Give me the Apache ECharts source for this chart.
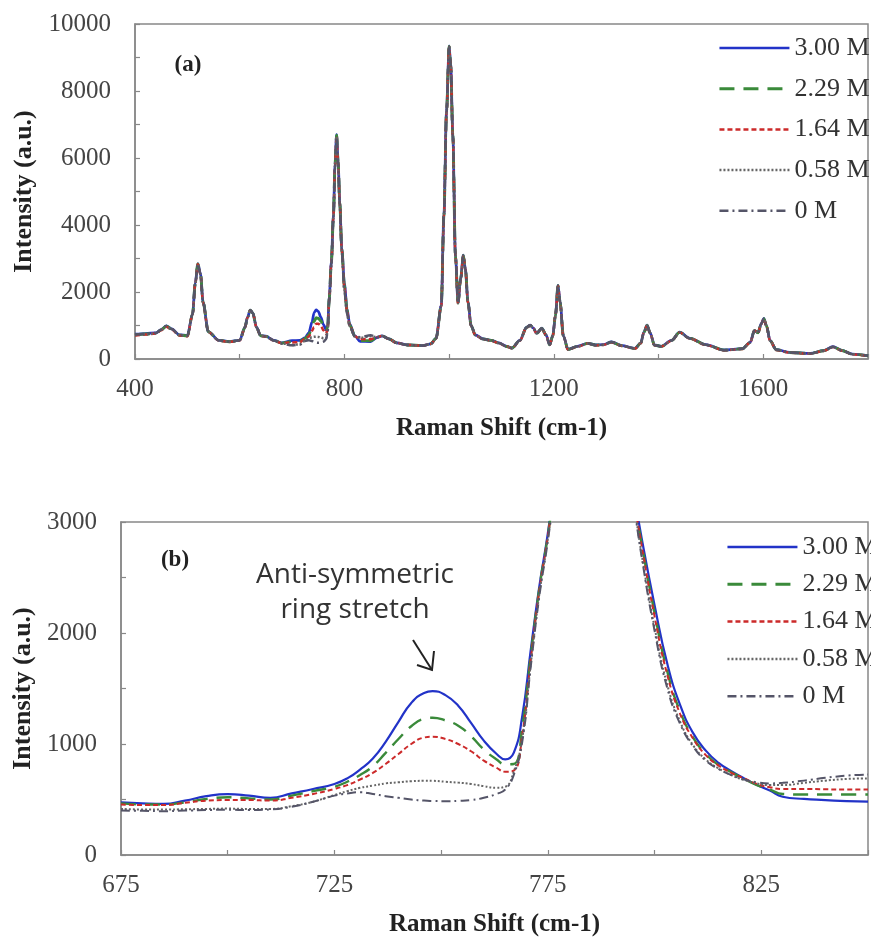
<!DOCTYPE html>
<html>
<head>
<meta charset="utf-8">
<script src="https://cdn.jsdelivr.net/npm/echarts@6/dist/echarts.min.js"></script>
<style>html,body{margin:0;padding:0;background:#fff}#c{width:871px;height:938px}</style>
</head>
<body>
<div id="c"></div>
<script>
// ---------- Panel (a): full spectrum ----------
const topX = [
 400,420,440,450,460,470,485,500,510,515,
 520,525,530,540,560,580,600,610,615,620,
 625,632,640,650,665,680,700,715,725,732,
 738,742,746,750,755,760,765,768,771,775,
 779,782,785,788,791,795,800,805,810,820,
 830,850,862,872,885,900,920,950,965,975,
 985,990,995,1000,1003,1007,1012,1017,1022,1027,
 1031,1036,1042,1050,1065,1080,1095,1110,1120,1135,
 1148,1155,1161,1167,1177,1185,1192,1198,1203,1208,
 1212,1218,1227,1245,1265,1280,1295,1310,1330,1355,
 1366,1372,1378,1384,1392,1405,1425,1440,1460,1490,
 1525,1560,1575,1583,1590,1596,1601,1606,1613,1625,
 1650,1690,1715,1733,1750,1770,1800];
const topM300 = [
 740,760,780,880,990,900,720,700,1350,2250,
 2850,2550,1700,820,560,520,560,950,1250,1460,
 1380,950,700,680,560,480,548,555,640,780,
 1100,1380,1470,1420,1250,1030,865,1000,1850,2900,
 4300,5800,6700,5900,4700,3300,2250,1500,1050,690,
 525,520,640,690,600,480,420,400,450,620,
 1600,4300,7400,9350,8800,6700,3100,1680,2400,3100,
 2700,1700,1000,720,600,560,480,380,330,560,
 950,1010,920,770,920,720,430,700,1300,2200,
 1700,700,290,380,470,420,430,510,400,320,
 480,800,1010,780,420,380,560,800,620,430,
 270,310,500,850,790,1050,1210,1000,550,280,
 200,170,250,370,260,150,100];
const topM229 = [
 720,745,770,870,980,890,710,690,1340,2240,
 2840,2540,1690,815,555,515,555,945,1245,1455,
 1375,945,695,675,555,475,520,530,615,720,
 960,1120,1230,1215,1140,950,818,960,1800,2880,
 4280,5780,6680,5880,4680,3260,2180,1450,1020,680,
 550,545,640,690,600,480,420,400,455,615,
 1590,4280,7380,9330,8780,6680,3090,1670,2390,3090,
 2690,1690,995,715,595,555,475,375,325,555,
 945,1005,915,765,915,715,425,695,1295,2190,
 1690,695,285,375,465,415,425,505,395,315,
 475,795,1005,775,415,375,555,795,615,425,
 265,305,495,845,785,1045,1205,995,545,275,
 195,165,245,365,255,145,95];
const topM164 = [
 700,730,760,860,960,880,700,680,1330,2230,
 2830,2530,1680,810,550,510,550,940,1240,1450,
 1370,940,690,670,550,470,495,505,595,670,
 840,950,1050,1055,1000,850,750,900,1760,2860,
 4260,5760,6660,5860,4660,3240,2150,1420,1000,680,
 595,590,650,690,600,480,420,400,450,610,
 1580,4260,7360,9310,8760,6660,3080,1660,2380,3080,
 2680,1680,990,710,590,550,470,370,320,550,
 940,1000,910,760,910,710,420,690,1290,2180,
 1680,690,280,370,460,410,420,500,390,310,
 470,790,1000,770,410,370,550,790,610,420,
 260,300,490,840,780,1040,1200,990,540,270,
 190,160,240,360,250,140,90];
const topM058 = [
 720,740,770,870,980,890,710,690,1340,2240,
 2835,2535,1685,812,553,513,553,943,1243,1453,
 1372,942,692,672,552,472,418,440,545,615,
 650,662,668,660,645,620,615,850,1720,2840,
 4240,5740,6640,5840,4640,3200,2050,1370,980,670,
 630,680,650,690,600,480,420,400,450,610,
 1585,4265,7365,9315,8765,6665,3085,1665,2385,3085,
 2685,1685,992,712,592,552,472,372,322,552,
 942,1002,912,762,912,712,422,692,1292,2185,
 1685,692,282,372,462,412,422,502,392,312,
 472,792,1002,772,412,372,552,792,612,422,
 262,302,492,842,782,1042,1202,992,542,272,
 192,162,242,362,252,142,92];
const topM000 = [
 730,750,775,875,985,895,715,695,1345,2245,
 2838,2538,1688,814,556,516,556,946,1246,1456,
 1376,946,696,676,555,460,408,430,535,560,
 535,505,490,485,490,515,590,830,1700,2820,
 4220,5720,6620,5820,4620,3180,2020,1350,970,670,
 650,710,650,690,600,480,420,400,452,612,
 1588,4268,7368,9320,8770,6670,3088,1668,2388,3088,
 2688,1688,994,714,594,554,474,374,324,554,
 944,1004,914,764,914,714,424,694,1294,2188,
 1688,694,284,374,464,414,424,504,394,314,
 474,794,1004,774,414,374,554,794,614,424,
 264,304,494,844,784,1044,1204,994,544,274,
 194,164,244,364,254,144,94];

// ---------- Panel (b): zoom 675-850 ----------
const botX = [
 675,680,685,690,695,700,705,710,715,720,
 725,728,731,734,737,740,743,746,748,751,
 754,757,760,763,765,767,769,771,773,775,
 777,779,781,783,785,787,789,791,793,795,
 797,800,803,806,809,812,815,818,821,824,
 827,830,835,840,845,850];
const botM300 = [
 475,465,460,490,530,548,535,515,555,595,
 640,690,770,870,1020,1200,1370,1460,1476,1440,
 1345,1190,1030,910,862,920,1250,1850,2420,2900,
 3500,4300,5300,6200,6700,6400,5500,4500,3800,3300,
 2850,2250,1720,1350,1100,940,830,755,690,630,
 580,525,505,495,485,480];
const botM229 = [
 465,455,455,475,505,520,510,500,535,575,
 615,660,720,800,920,1045,1160,1228,1237,1212,
 1165,1070,950,860,818,820,1150,1800,2400,2880,
 3480,4280,5280,6180,6680,6380,5480,4480,3780,3260,
 2800,2180,1650,1290,1060,910,810,745,685,630,
 590,550,545,545,545,545];
const botM164 = [
 455,450,450,470,490,495,495,490,515,550,
 595,630,680,740,820,910,1000,1058,1066,1045,
 1000,935,850,785,750,760,1080,1760,2380,2870,
 3470,4270,5270,6170,6670,6370,5470,4470,3770,3250,
 2780,2150,1620,1270,1050,900,805,740,690,640,
 610,595,595,592,590,590];
const botM058 = [
 415,410,410,412,415,418,415,415,440,480,
 540,575,605,625,645,655,665,668,668,660,
 652,640,620,606,615,750,1050,1720,2350,2850,
 3450,4250,5250,6150,6650,6350,5450,4450,3750,3220,
 2700,2050,1530,1200,990,860,780,720,675,645,
 630,630,650,670,685,690];
const botM000 = [
 400,398,395,400,405,408,405,410,435,480,
 535,555,565,550,530,515,500,490,487,485,
 488,495,515,550,590,720,1020,1700,2330,2830,
 3430,4230,5230,6130,6630,6330,5430,4430,3730,3200,
 2680,2020,1500,1180,980,850,775,720,680,655,
 645,650,670,695,715,725];

const seriesNames = ['3.00 M','2.29 M','1.64 M','0.58 M','0 M'];
const topSets = [topM300, topM229, topM164, topM058, topM000];
const botSets = [botM300, botM229, botM164, botM058, botM000];

const lineStyles = [
  {color:'#2233c8', type:'solid', width:2.2},
  {color:'#3a8a3a', type:[15,9], width:2.4},
  {color:'#cc2a2a', type:[5,3], width:2},
  {color:'#666666', type:[2,2], width:2},
  {color:'#555568', type:[9,4,2,4], width:2}
];

const serif = '"Liberation Serif", "Times New Roman", serif';
const axisGrey = '#888888';

function mkSeries(xs, ys, idx, axisIdx) {
  const ls = Object.assign({}, lineStyles[idx]);
  if (axisIdx === 0) ls.width = ls.width + 0.5;
  return {
    name: seriesNames[idx], type: 'line',
    xAxisIndex: axisIdx, yAxisIndex: axisIdx,
    data: xs.map((x, i) => [x, ys[i]]),
    showSymbol: false, symbol: 'none',
    smooth: axisIdx === 0 ? 0.3 : 0.5,
    smoothMonotone: axisIdx === 0 ? 'x' : null,
    clip: true,
    lineStyle: ls,
    itemStyle: {color: lineStyles[idx].color},
    animation: false
  };
}

const series = [];
topSets.forEach((s, i) => series.push(mkSeries(topX, s, i, 0)));
botSets.forEach((s, i) => series.push(mkSeries(botX, s, i, 1)));

function xAxisCfg(gi, min, max, step, labelEvery, labelBase) {
  return {
    type: 'value', gridIndex: gi, min: min, max: max, interval: step,
    name: 'Raman Shift (cm-1)', nameLocation: 'middle', nameGap: 57,
    nameTextStyle: {fontFamily: serif, fontWeight: 'bold', fontSize: 25, color: '#222'},
    axisLine: {show: true, lineStyle: {color: axisGrey, width: 1.5}},
    axisTick: {show: true, inside: true, length: 5, lineStyle: {color: axisGrey, width: 1.2}},
    axisLabel: {
      fontFamily: serif, fontSize: 25, color: '#444', margin: 18,
      formatter: v => ((v - labelBase) % labelEvery === 0 ? String(v) : '')
    },
    splitLine: {show: false}
  };
}
function yAxisCfg(gi, max, step, labelEvery, gap) {
  return {
    type: 'value', gridIndex: gi, min: 0, max: max, interval: step,
    name: 'Intensity (a.u.)', nameLocation: 'middle', nameGap: gap, nameRotate: 90,
    nameTextStyle: {fontFamily: serif, fontWeight: 'bold', fontSize: 26, color: '#222'},
    axisLine: {show: true, lineStyle: {color: axisGrey, width: 1.5}},
    axisTick: {show: true, inside: true, length: 5, lineStyle: {color: axisGrey, width: 1.2}},
    axisLabel: {
      fontFamily: serif, fontSize: 25, color: '#444', margin: 24,
      formatter: v => (v % labelEvery === 0 ? String(v) : '')
    },
    splitLine: {show: false}
  };
}

function legendCfg(left, top, gap) {
  return {
    orient: 'vertical', left: left, top: top,
    data: seriesNames, itemWidth: 70, itemHeight: 14, itemGap: gap,
    itemStyle: {opacity: 0},
    lineStyle: {width: 'inherit', type: 'inherit', color: 'inherit'},
    textStyle: {fontFamily: serif, fontSize: 26, color: '#333', lineHeight: 26},
    selectedMode: false
  };
}

const chart = echarts.init(document.getElementById('c'), null, {renderer: 'canvas'});
chart.setOption({
  animation: false,
  backgroundColor: '#ffffff',
  grid: [
    {left: 135, top: 24, width: 743, height: 335, show: true, borderColor: axisGrey, borderWidth: 1.5, backgroundColor: 'transparent'},
    {left: 121, top: 522, width: 763, height: 334, show: true, borderColor: axisGrey, borderWidth: 1.5, backgroundColor: 'transparent'}
  ],
  xAxis: [
    xAxisCfg(0, 400, 1800, 200, 400, 0),
    xAxisCfg(1, 675, 850, 25, 50, 675)
  ],
  yAxis: [
    yAxisCfg(0, 10000, 1000, 2000, 98),
    yAxisCfg(1, 3000, 500, 1000, 85)
  ],
  legend: [legendCfg(713, 30, 14.7), legendCfg(721, 529, 11.3)],
  series: series,
  graphic: [
    {type: 'text', x: 188, y: 65, style: {text: '(a)', font: 'bold 23px "Liberation Serif"', fill: '#222', align: 'center', verticalAlign: 'middle', textAlign: 'center', textVerticalAlign: 'middle'}},
    {type: 'text', x: 175, y: 560, style: {text: '(b)', font: 'bold 23px "Liberation Serif"', fill: '#222', align: 'center', verticalAlign: 'middle', textAlign: 'center', textVerticalAlign: 'middle'}},
    {type: 'text', x: 355, y: 575, style: {text: 'Anti-symmetric', font: '28px "Open Sans"', fill: '#333', align: 'center', verticalAlign: 'middle', textAlign: 'center', textVerticalAlign: 'middle'}},
    {type: 'text', x: 355, y: 610, style: {text: 'ring stretch', font: '28px "Open Sans"', fill: '#333', align: 'center', verticalAlign: 'middle', textAlign: 'center', textVerticalAlign: 'middle'}},
    {type: 'polyline', shape: {points: [[413, 640], [432, 670]]}, style: {stroke: '#222', lineWidth: 2, fill: null}},
    {type: 'polyline', shape: {points: [[417, 665], [432, 670], [434, 651]]}, style: {stroke: '#222', lineWidth: 2, fill: null}}
  ]
});
</script>
</body>
</html>
